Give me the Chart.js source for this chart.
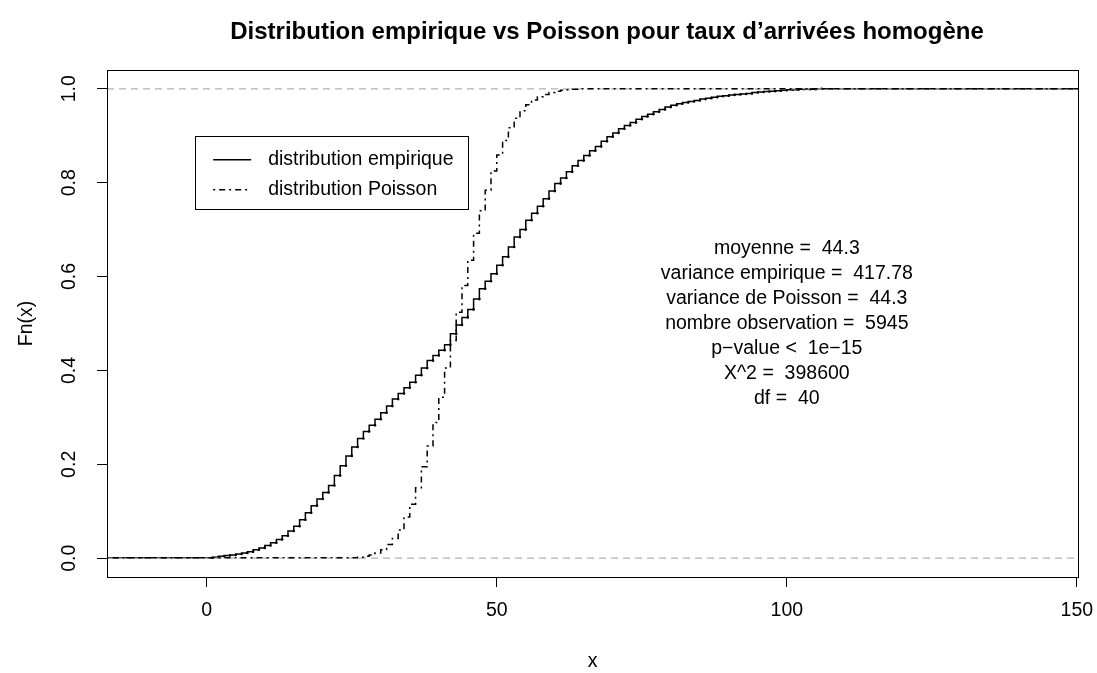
<!DOCTYPE html>
<html>
<head>
<meta charset="utf-8">
<script src="https://cdn.jsdelivr.net/npm/chart.js@4.4.1/dist/chart.umd.min.js"></script>
<style>
  html, body { margin: 0; padding: 0; background: #fff; }
  #wrap { width: 1097px; height: 673px; }
</style>
</head>
<body>
<div id="wrap"><canvas id="graphe" width="1097" height="673"></canvas></div>
<script>
// Données
const xMin = -17.2;
const xMax = 150.2;
const xTicks = [0, 50, 100, 150];
const yTicks = [0, 0.2, 0.4, 0.6, 0.8, 1.0];
const lignesRef = [0, 1];

// Fonction de répartition empirique (sauts aux entiers 1..106)
const empiriqueX = [1,2,3,4,5,6,7,8,9,10,11,12,13,14,15,16,17,18,19,20,
  21,22,23,24,25,26,27,28,29,30,31,32,33,34,35,36,37,38,39,40,
  41,42,43,44,45,46,47,48,49,50,51,52,53,54,55,56,57,58,59,60,
  61,62,63,64,65,66,67,68,69,70,71,72,73,74,75,76,77,78,79,80,
  81,82,83,84,85,86,87,88,89,90,91,92,93,94,95,96,97,98,99,100,
  101,102,103,104,105,106];
const empiriqueF = [0.001,0.002,0.004,0.006,0.007,0.009,0.011,0.014,0.018,0.022,
  0.027,0.033,0.040,0.048,0.058,0.068,0.082,0.097,0.112,0.126,
  0.140,0.155,0.176,0.197,0.218,0.237,0.255,0.270,0.283,0.296,
  0.310,0.324,0.339,0.351,0.363,0.375,0.390,0.405,0.421,0.432,
  0.443,0.455,0.478,0.497,0.513,0.530,0.552,0.574,0.590,0.606,
  0.624,0.642,0.663,0.684,0.700,0.720,0.735,0.750,0.766,0.782,
  0.798,0.810,0.823,0.836,0.847,0.858,0.868,0.877,0.888,0.898,
  0.906,0.915,0.922,0.928,0.935,0.941,0.946,0.951,0.956,0.961,
  0.965,0.968,0.971,0.973,0.975,0.978,0.980,0.982,0.984,0.985,
  0.987,0.988,0.989,0.990,0.992,0.993,0.994,0.995,0.996,0.997,
  0.998,0.998,0.999,0.999,0.999,1.000];

// Fonction de répartition de Poisson
const poissonX = [26,27,28,29,30,31,32,33,34,35,36,37,38,39,40,
  41,42,43,44,45,46,47,48,49,50,51,52,53,54,55,56,57,58,59,60,
  61,62,63,64,65];
const poissonF = [0.001,0.002,0.004,0.007,0.011,0.018,0.029,0.042,0.060,0.088,
  0.115,0.150,0.195,0.239,0.289,0.343,0.405,0.464,0.524,0.581,
  0.635,0.692,0.740,0.784,0.825,0.859,0.890,0.917,0.937,0.953,
  0.966,0.976,0.983,0.988,0.992,0.995,0.997,0.998,0.999,1.000];

const titre = "Distribution empirique vs Poisson pour taux d\u2019arriv\u00e9es homog\u00e8ne";
const legendeTextes = ["distribution empirique", "distribution Poisson"];
const stats = [
  "moyenne =  44.3",
  "variance empirique =  417.78",
  "variance de Poisson =  44.3",
  "nombre observation =  5945",
  "p\u2212value <  1e\u221215",
  "X^2 =  398600",
  "df =  40"
];

const police = "'Liberation Sans', Arial, Helvetica, sans-serif";
const taille = "19.5px ";
const tiretPoisson = [2, 4, 6, 4];
const tiretGris = [7, 5];

function escalier(xs, fs) {
  const pts = [{ x: xMin, y: 0 }];
  xs.forEach((x, i) => pts.push({ x: x, y: fs[i] }));
  pts.push({ x: xMax, y: 1 });
  return pts;
}

// Textes, cadre, légende
const habillage = {
  id: "habillage",
  afterDraw(chart) {
    const ctx = chart.ctx;
    const a = chart.chartArea;
    const sx = chart.scales.x, sy = chart.scales.y;
    ctx.save();
    ctx.strokeStyle = "#000";
    ctx.lineWidth = 1;
    ctx.strokeRect(Math.round(a.left) + 0.5, Math.round(a.top) + 0.5,
      Math.round(a.right - a.left), Math.round(a.bottom - a.top));

    ctx.fillStyle = "#000";
    // titre
    ctx.font = "bold 24px " + police;
    ctx.textAlign = "center";
    ctx.textBaseline = "middle";
    ctx.fillText(titre, 607, 32);

    // graduations x
    ctx.font = taille + police;
    xTicks.forEach(v => ctx.fillText(String(v), sx.getPixelForValue(v), 611));
    ctx.fillText("x", (a.left + a.right) / 2, 662);

    // graduations y (verticales)
    yTicks.forEach(v => {
      ctx.save();
      ctx.translate(70, sy.getPixelForValue(v));
      ctx.rotate(-Math.PI / 2);
      ctx.fillText(v.toFixed(1), 0, 0);
      ctx.restore();
    });
    ctx.save();
    ctx.translate(27, (a.top + a.bottom) / 2);
    ctx.rotate(-Math.PI / 2);
    ctx.fillText("Fn(x)", 0, 0);
    ctx.restore();

    // statistiques
    const cx = sx.getPixelForValue(100);
    const cy = sy.getPixelForValue(0.5);
    stats.forEach((t, i) => ctx.fillText(t, cx, cy + (i - 3) * 25));

    // légende
    const lx = sx.getPixelForValue(-2);
    const ly = sy.getPixelForValue(0.9);
    ctx.strokeRect(Math.round(lx) + 0.5, Math.round(ly) + 0.5, 273, 73);
    ctx.textAlign = "left";
    ctx.lineWidth = 1.5;
    [0, 1].forEach(i => {
      const yy = ly + 24 + i * 30;
      ctx.setLineDash(i === 0 ? [] : tiretPoisson);
      ctx.beginPath();
      ctx.moveTo(lx + 18, yy);
      ctx.lineTo(lx + 56, yy);
      ctx.stroke();
      ctx.fillText(legendeTextes[i], lx + 73, yy);
    });
    ctx.restore();
  }
};

new Chart(document.getElementById("graphe"), {
  type: "line",
  data: {
    datasets: [
      {
        label: legendeTextes[1],
        data: escalier(poissonX, poissonF),
        stepped: "after",
        borderColor: "#000",
        borderWidth: 1.5,
        borderDash: tiretPoisson,
        pointRadius: 0,
        fill: false,
        order: 1
      },
      ...lignesRef.map(v => ({
        label: "ref" + v,
        data: [{ x: xMin, y: v }, { x: xMax, y: v }],
        borderColor: "#b3b3b3",
        borderWidth: 1.2,
        borderDash: tiretGris,
        pointRadius: 0,
        fill: false,
        order: 2
      })),
      {
        label: legendeTextes[0],
        data: escalier(empiriqueX, empiriqueF),
        stepped: "after",
        borderColor: "#000",
        borderWidth: 1.5,
        pointRadius: c => (c.dataIndex === 0 || c.dataIndex === empiriqueX.length + 1) ? 0 : 1.3,
        pointBackgroundColor: "#000",
        pointBorderWidth: 0,
        fill: false,
        order: 3
      }
    ]
  },
  options: {
    responsive: false,
    animation: false,
    layout: { padding: { top: 70, right: 19, left: 0, bottom: 0 } },
    plugins: { legend: { display: false }, title: { display: false }, tooltip: { enabled: false } },
    scales: {
      x: {
        type: "linear",
        min: xMin,
        max: xMax,
        afterBuildTicks: s => { s.ticks = xTicks.map(v => ({ value: v })); },
        afterFit: s => { s.height = 96; },
        ticks: { display: false },
        grid: { drawOnChartArea: false, drawTicks: true, tickLength: 10, color: "#000", lineWidth: 1 },
        border: { color: "#000", width: 1 }
      },
      y: {
        type: "linear",
        min: -0.04,
        max: 1.04,
        afterBuildTicks: s => { s.ticks = yTicks.map(v => ({ value: v })); },
        afterFit: s => { s.width = 107; },
        ticks: { display: false },
        grid: { drawOnChartArea: false, drawTicks: true, tickLength: 10, color: "#000", lineWidth: 1 },
        border: { color: "#000", width: 1 }
      }
    }
  },
  plugins: [habillage]
});
</script>
</body>
</html>
